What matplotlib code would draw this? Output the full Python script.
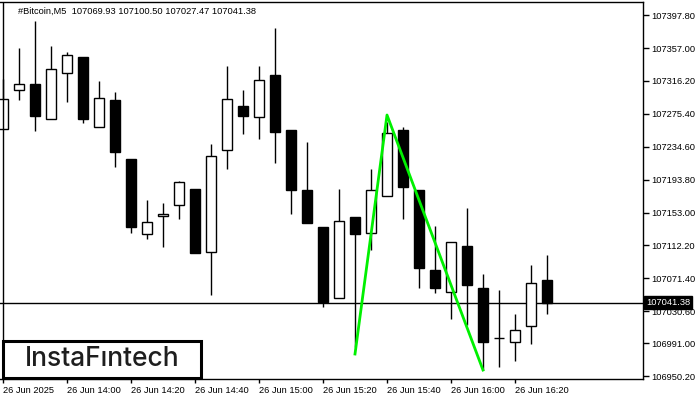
import matplotlib
matplotlib.use('Agg')
import matplotlib.pyplot as plt
from matplotlib.patches import Rectangle
import matplotlib.transforms as mtransforms

# ---- data (M5 candles, 26 Jun 2025) ----
times = ["13:40", "13:45", "13:50", "13:55", "14:00", "14:05", "14:10", "14:15",
         "14:20", "14:25", "14:30", "14:35", "14:40", "14:45", "14:50", "14:55",
         "15:00", "15:05", "15:10", "15:15", "15:20", "15:25", "15:30", "15:35",
         "15:40", "15:45", "15:50", "15:55", "16:00", "16:05", "16:10", "16:15",
         "16:20", "16:25", "16:30"]
opens = [107256.7, 107305.0, 107312.1, 107268.7, 107325.8, 107345.6, 107258.8, 107292.6,
         107219.4, 107126.0, 107148.3, 107162.0, 107182.2, 107103.7, 107230.2, 107285.2,
         107271.2, 107323.7, 107255.4, 107181.0, 107135.1, 107046.6, 107147.1, 107128.0,
         107173.2, 107255.4, 107181.0, 107081.7, 107054.8, 107111.5, 107059.4, 106997.0,
         106992.8, 107011.9, 107069.93]
highs = [107318.7, 107356.8, 107390.6, 107359.6, 107352.6, 107345.6, 107316.2, 107302.2,
         107219.4, 107168.6, 107164.5, 107191.8, 107182.2, 107238.0, 107334.8, 107305.0,
         107334.8, 107382.0, 107255.4, 107240.2, 107135.1, 107182.2, 107147.1, 107207.0,
         107265.7, 107259.5, 107181.0, 107136.7, 107116.1, 107158.6, 107076.8, 107056.9,
         107027.1, 107087.9, 107100.50]
lows = [107256.7, 107292.6, 107254.5, 107268.7, 107290.5, 107264.5, 107258.8, 107209.9,
        107128.0, 107120.2, 107110.6, 107145.4, 107102.4, 107051.1, 107207.4, 107250.4,
        107244.6, 107214.8, 107150.8, 107140.4, 107035.4, 107046.6, 106986.6, 107106.5,
        107173.2, 107144.6, 107059.8, 107053.5, 107021.3, 107013.5, 106957.6, 106961.7,
        106969.2, 106990.3, 107027.47]
closes = [107293.9, 107312.1, 107273.2, 107330.7, 107348.1, 107268.7, 107294.7, 107228.5,
          107134.7, 107140.9, 107151.2, 107190.9, 107102.4, 107223.2, 107293.5, 107273.2,
          107317.4, 107253.3, 107181.0, 107140.4, 107041.6, 107142.1, 107126.0, 107181.0,
          107251.3, 107185.1, 107084.6, 107059.8, 107116.1, 107063.5, 106992.8, 106997.4,
          107006.9, 107065.2, 107041.38]

# pattern line (index, price)
pattern_idx = [22, 24, 30]
pattern_price = [106977.5, 107274.0, 106957.6]

current_price = 107041.38
ytick_values = [107397.80, 107357.00, 107316.20, 107275.40, 107234.60, 107193.80,
                107153.00, 107112.20, 107071.40, 107030.60, 106991.00, 106950.20]
ytick_labels = ["107397.80", "107357.00", "107316.20", "107275.40", "107234.60", "107193.80",
                "107153.00", "107112.20", "107071.40", "107030.60", "106991.00", "106950.20"]
xtick_idx = [0, 4, 8, 12, 16, 20, 24, 28, 32]
xtick_labels = ["26 Jun 2025", "26 Jun 14:00", "26 Jun 14:20", "26 Jun 14:40",
                "26 Jun 15:00", "26 Jun 15:20", "26 Jun 15:40", "26 Jun 16:00",
                "26 Jun 16:20"]
title = "#Bitcoin,M5  107069.93 107100.50 107027.47 107041.38"

W, H = 700, 400
fig = plt.figure(figsize=(7, 4), dpi=100)
fig.patch.set_facecolor('white')
ax = fig.add_axes([0, (H - 379) / H, 643 / W, (379 - 2) / H])
ax.set_facecolor('white')

bw = 0.66
for i in range(len(opens)):
    o, h, l, c = opens[i], highs[i], lows[i], closes[i]
    bull = c >= o
    top, bot = max(o, c), min(o, c)
    ax.plot([i, i], [l, bot], color='black', lw=1, solid_capstyle='butt', zorder=2, clip_on=False)
    ax.plot([i, i], [top, h], color='black', lw=1, solid_capstyle='butt', zorder=2, clip_on=False)
    ax.add_patch(Rectangle((i - bw / 2, bot), bw, max(top - bot, 0.01),
                           facecolor='white' if bull else 'black', edgecolor='black',
                           lw=1, zorder=3, clip_on=False))

ax.axhline(current_price, color='black', lw=1, zorder=1)
ax.axvline(0, color='black', lw=1, zorder=4)
ax.plot(pattern_idx, pattern_price, color='#00f000', lw=2, zorder=5)

ax.set_xlim(-3 / 16, 40)
ax.set_ylim(106946.5, 107414.2)

ax.spines['left'].set_visible(False)
for s in ['top', 'right', 'bottom']:
    ax.spines[s].set_linewidth(1)

fs = 6.7
fam = 'Liberation Sans'
ax.yaxis.tick_right()
ax.set_yticks(ytick_values)
ax.set_yticklabels(ytick_labels, fontsize=fs, family=fam)
ax.tick_params(axis='y', direction='out', length=4, width=1, pad=2)
ax.set_xticks(xtick_idx)
ax.set_xticklabels(xtick_labels, fontsize=fs, family=fam, ha='left')
ax.tick_params(axis='x', direction='out', length=3, width=1, pad=2)

# current price label
trans = mtransforms.blended_transform_factory(ax.transAxes, ax.transData)
ax.text(1.005, current_price, "107041.38", transform=trans, fontsize=fs, color='white',
        va='center', ha='left', family=fam, zorder=10,
        bbox=dict(boxstyle='square,pad=0.2', facecolor='black', edgecolor='black'))

fig.text(18 / W, 1 - 11 / H, title, fontsize=fs, va='center', ha='left', family=fam)

# logo
fig.add_artist(Rectangle((3 / W, (H - 378) / H), 198 / W, 37 / H, transform=fig.transFigure,
                         facecolor='white', edgecolor='black', lw=2.2, zorder=20))
fig.text(102 / W, 1 - 359 / H, "InstaFıntech", fontsize=19, va='center', ha='center',
         family=['Inter', 'DejaVu Sans'], fontweight='medium', color='#1e1e1e', zorder=21)

fig.savefig('out.png', dpi=100)
